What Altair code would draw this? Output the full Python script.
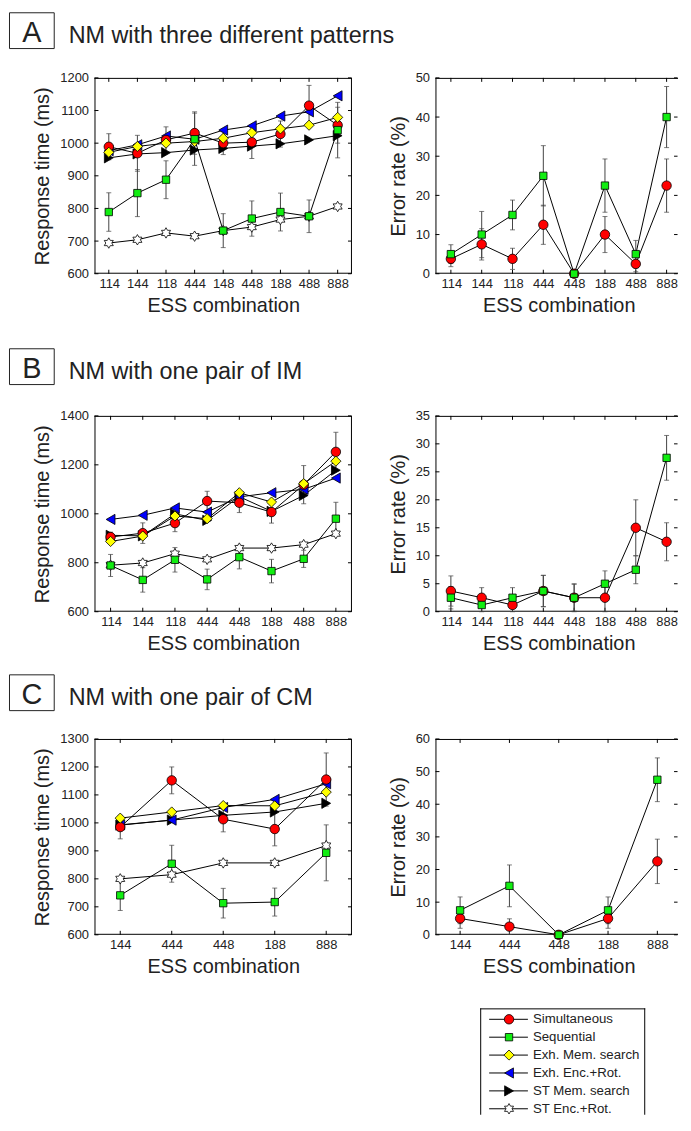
import math
import altair as alt
import pandas as pd

FONT = "Liberation Sans"
INK = "#222222"
EBAR = "#444444"

SERIES = ["Simultaneous", "Sequential", "Exh. Mem. search", "Exh. Enc.+Rot.",
          "ST Mem. search", "ST Enc.+Rot."]
DRAW_ORDER = ["ST Enc.+Rot.", "ST Mem. search", "Exh. Enc.+Rot.", "Simultaneous",
              "Exh. Mem. search", "Sequential"]

# ---------------- Panel A : NM with three different patterns ----------------
A_CATS_RT = ["114", "144", "118", "444", "148", "448", "188", "488", "888"]
A_RT_SIM = [989, 969, 1010, 1031, 1000, 1003, 1028, 1115, 1055]
A_RT_SIM_E = [40, 55, 40, 65, 35, 50, 40, 62, 55]
A_RT_SEQ = [789, 847, 888, 1012, 732, 769, 789, 776, 1040]
A_RT_SEQ_E = [59, 72, 58, 80, 52, 54, 58, 50, 85]
A_RT_EXHMEM = [972, 990, 1000, 1005, 1015, 1032, 1044, 1055, 1079]
A_RT_EXHENC = [977, 995, 1022, 1012, 1040, 1053, 1083, 1096, 1145]
A_RT_STMEM = [955, 967, 971, 979, 984, 991, 998, 1010, 1023]
A_RT_STENC = [694, 704, 725, 715, 732, 743, 766, 776, 806]

A_CATS_ER = ["114", "144", "118", "444", "448", "188", "488", "888"]
A_ER_SIM = [3.8, 7.5, 3.8, 12.5, 0, 10, 2.5, 22.5]
A_ER_SIM_E = [2.0, 4.0, 2.7, 5.0, 0, 4.6, 2.0, 6.8]
A_ER_SEQ = [5, 10, 15, 25, 0, 22.5, 5, 40]
A_ER_SEQ_E = [2.4, 5.9, 3.8, 7.7, 0, 6.8, 3.5, 7.8]

# ---------------- Panel B : NM with one pair of IM ----------------
B_CATS = ["114", "144", "118", "444", "448", "188", "488", "888"]
B_RT_SIM = [905, 921, 962, 1052, 1045, 1007, 1119, 1253]
B_RT_SIM_E = [20, 42, 35, 40, 40, 45, 78, 80]
B_RT_SEQ = [789, 730, 812, 732, 823, 766, 816, 980]
B_RT_SEQ_E = [45, 50, 50, 42, 48, 48, 35, 67]
B_RT_EXHMEM = [887, 909, 991, 980, 1086, 1048, 1123, 1215]
B_RT_EXHENC = [977, 994, 1024, 1007, 1069, 1086, 1100, 1146]
B_RT_STMEM = [912, 910, 1000, 973, 1070, 1010, 1075, 1178]
B_RT_STENC = [790, 799, 837, 814, 860, 860, 874, 919]

B_ER_SIM = [3.7, 2.5, 1.2, 3.7, 2.5, 2.5, 15, 12.5]
B_ER_SIM_E = [2.7, 1.8, 1.2, 2.8, 2.4, 2.5, 5.0, 3.4]
B_ER_SEQ = [2.5, 1.2, 2.5, 3.7, 2.5, 5, 7.5, 27.5]
B_ER_SEQ_E = [2.0, 1.2, 1.8, 2.8, 2.5, 2.3, 2.5, 4.0]

# ---------------- Panel C : NM with one pair of CM ----------------
C_CATS = ["144", "444", "448", "188", "888"]
C_RT_SIM = [985, 1152, 1013, 978, 1155]
C_RT_SIM_E = [42, 48, 45, 60, 95]
C_RT_SEQ = [741, 854, 713, 717, 893]
C_RT_SEQ_E = [54, 66, 53, 50, 100]
C_RT_EXHMEM = [1017, 1039, 1062, 1061, 1110]
C_RT_EXHENC = [993, 1010, 1055, 1084, 1140]
C_RT_STMEM = [992, 1010, 1027, 1039, 1070]
C_RT_STENC = [800, 815, 857, 857, 919]

C_ER_SIM = [5, 2.5, 0, 5, 22.5]
C_ER_SIM_E = [3.0, 2.4, 0, 3.0, 6.8]
C_ER_SEQ = [7.5, 15, 0, 7.5, 47.5]
C_ER_SEQ_E = [4.1, 6.4, 0, 4.1, 6.7]


def hexagram_path():
    pts = []
    for k in range(12):
        ang = math.radians(-90 + 30 * k)
        r = 1.0 if k % 2 == 0 else 1 / math.sqrt(3)
        pts.append((r * math.cos(ang), r * math.sin(ang)))
    return "M" + " L".join(f"{x:.3f},{y:.3f}" for x, y in pts) + " Z"


MARKERS = {
    "Simultaneous": ("circle", "#ff0000", 90),
    "Sequential": ("square", "#11ee11", 55),
    "Exh. Mem. search": ("diamond", "#ffff00", 105),
    "Exh. Enc.+Rot.": ("triangle-left", "#0000ff", 105),
    "ST Mem. search": ("triangle-right", "#000000", 105),
    "ST Enc.+Rot.": (hexagram_path(), "#ffffff", 110),
}

ONE = pd.DataFrame({"k": [0]})


def spacer(w, h):
    return alt.Chart(ONE).mark_point(opacity=0, size=1).encode(
        x=alt.value(0.5), y=alt.value(0.5)).properties(width=w, height=h)


def panel(cats, vals, errs, ymin, ymax, ystep, ytitle, W, H, lab_pad, title_pad,
          xrange=None, open_right=False):
    rows, erows = [], []
    for s in SERIES:
        if s not in vals:
            continue
        for i, c in enumerate(cats):
            v = vals[s][i]
            rows.append({"s": s, "c": c, "i": i, "v": v})
            if s in errs and errs[s][i] > 0:
                e = errs[s][i]
                erows.append({"s": s, "c": c, "lo": v - e, "hi": v + e})
    df = pd.DataFrame(rows)
    ticks = list(range(ymin, ymax + 1, ystep))
    # 3-digit labels are ~21.7px wide at 13px: right-align and shift by half width
    xaxis = alt.Axis(labelAngle=0, ticks=False, tickSize=0, domain=False, grid=False,
                     labelPadding=4, titlePadding=5, labelAlign="right", labelOffset=10.8,
                     labelOverlap=False)
    yaxis = alt.Axis(values=ticks, format="d", ticks=False, tickSize=0, domain=False,
                     grid=False, labelPadding=lab_pad, titlePadding=title_pad)
    if xrange is not None:
        xs = alt.Scale(type="point", padding=0.5, domain=cats, range=xrange)
    else:
        xs = alt.Scale(type="point", padding=0.5, domain=cats)
    ys = alt.Scale(domain=[ymin, ymax], nice=False, zero=False)
    X = alt.X("c:N", scale=xs, axis=xaxis, title="ESS combination")

    def Y(f):
        return alt.Y(f"{f}:Q", scale=ys, axis=yaxis, title=ytitle)

    fr = alt.Chart(ONE).mark_rule(color="black", strokeWidth=1)
    layers = [
        fr.encode(x=alt.value(0), x2=alt.value(W), y=alt.value(0.5)),
        fr.encode(x=alt.value(0), x2=alt.value(W), y=alt.value(H - 0.5)),
        fr.encode(x=alt.value(0.5), y=alt.value(0), y2=alt.value(H)),
    ]
    if not open_right:
        layers.append(fr.encode(x=alt.value(W - 0.5), y=alt.value(0), y2=alt.value(H)))
    tdf = pd.DataFrame({"t": ticks})
    cdf = pd.DataFrame({"c": cats})
    tk = alt.Chart(tdf).mark_rule(color="black", strokeWidth=1)
    layers += [
        tk.encode(y=Y("t"), x=alt.value(0), x2=alt.value(4)),
        tk.encode(y=Y("t"), x=alt.value(W - 4), x2=alt.value(W - 0.5)),
    ]
    ck = alt.Chart(cdf).mark_rule(color="black", strokeWidth=1)
    layers += [
        ck.encode(x=X, y=alt.value(0), y2=alt.value(4)),
        ck.encode(x=X, y=alt.value(H - 4), y2=alt.value(H)),
    ]
    layers.append(alt.Chart(df).mark_line(color="black", strokeWidth=1).encode(
        x=X, y=Y("v"), detail="s:N", order="i:Q"))
    if erows:
        de = pd.DataFrame(erows)
        layers += [
            alt.Chart(de).mark_rule(color=EBAR, strokeWidth=1).encode(x=X, y=Y("lo"), y2="hi:Q"),
            alt.Chart(de).mark_tick(color=EBAR, thickness=1, size=5).encode(x=X, y=Y("lo")),
            alt.Chart(de).mark_tick(color=EBAR, thickness=1, size=5).encode(x=X, y=Y("hi")),
        ]
    for s in DRAW_ORDER:
        if s not in vals:
            continue
        shp, fill, size = MARKERS[s]
        d = df[df.s == s]
        layers.append(alt.Chart(d).mark_point(
            shape=shp, size=size, filled=True, fill=fill, stroke="black",
            strokeWidth=0.8, opacity=1).encode(x=X, y=Y("v")))
    return alt.layer(*layers).properties(width=W, height=H)


C0W = 86


def header(letter, text, top, h):
    box = alt.Chart(ONE).mark_rect(fillOpacity=0, stroke=INK, strokeWidth=1).encode(
        x=alt.value(0.5), x2=alt.value(45.5), y=alt.value(top + 0.5), y2=alt.value(top + 36.5))
    let = alt.Chart(pd.DataFrame({"t": [letter]})).mark_text(
        fontSize=29, font=FONT, color=INK, align="center", baseline="alphabetic"
    ).encode(text="t:N", x=alt.value(23), y=alt.value(top + 30))
    ttl = alt.Chart(pd.DataFrame({"t": [text]})).mark_text(
        fontSize=23.5, font=FONT, color=INK, align="left", baseline="alphabetic"
    ).encode(text="t:N", x=alt.value(60), y=alt.value(top + 31))
    return alt.layer(box, let, ttl).properties(width=C0W, height=h)


LW, GAPW, RW, PH = 259, 84, 244, 197
RX = [0, 248]

rt = "Response time (ms)"
er = "Error rate (%)"

A_left = panel(A_CATS_RT,
               {"Simultaneous": A_RT_SIM, "Sequential": A_RT_SEQ, "Exh. Mem. search": A_RT_EXHMEM,
                "Exh. Enc.+Rot.": A_RT_EXHENC, "ST Mem. search": A_RT_STMEM, "ST Enc.+Rot.": A_RT_STENC},
               {"Simultaneous": A_RT_SIM_E, "Sequential": A_RT_SEQ_E},
               600, 1200, 100, rt, LW, PH, 6, 7)
A_right = panel(A_CATS_ER, {"Simultaneous": A_ER_SIM, "Sequential": A_ER_SEQ},
                {"Simultaneous": A_ER_SIM_E, "Sequential": A_ER_SEQ_E},
                0, 50, 10, er, RW, PH, 6, 7, xrange=RX, open_right=True)
B_left = panel(B_CATS,
               {"Simultaneous": B_RT_SIM, "Sequential": B_RT_SEQ, "Exh. Mem. search": B_RT_EXHMEM,
                "Exh. Enc.+Rot.": B_RT_EXHENC, "ST Mem. search": B_RT_STMEM, "ST Enc.+Rot.": B_RT_STENC},
               {"Simultaneous": B_RT_SIM_E, "Sequential": B_RT_SEQ_E},
               600, 1400, 200, rt, LW, PH, 6, 7)
B_right = panel(B_CATS, {"Simultaneous": B_ER_SIM, "Sequential": B_ER_SEQ},
                {"Simultaneous": B_ER_SIM_E, "Sequential": B_ER_SEQ_E},
                0, 35, 5, er, RW, PH, 6, 7, xrange=RX, open_right=True)
C_left = panel(C_CATS,
               {"Simultaneous": C_RT_SIM, "Sequential": C_RT_SEQ, "Exh. Mem. search": C_RT_EXHMEM,
                "Exh. Enc.+Rot.": C_RT_EXHENC, "ST Mem. search": C_RT_STMEM, "ST Enc.+Rot.": C_RT_STENC},
               {"Simultaneous": C_RT_SIM_E, "Sequential": C_RT_SEQ_E},
               600, 1300, 100, rt, LW, PH, 6, 7)
C_right = panel(C_CATS, {"Simultaneous": C_ER_SIM, "Sequential": C_ER_SEQ},
                {"Simultaneous": C_ER_SIM_E, "Sequential": C_ER_SEQ_E},
                0, 60, 10, er, RW, PH, 6, 7, xrange=RX, open_right=True)

# ---------------- Legend (placed in the right column) ----------------
LEG_TOP, LEG_X, LEG_CELL_H = 74, 45, 181
leg_df = pd.DataFrame({"s": SERIES})
Yl = alt.Y("s:N", scale=alt.Scale(type="point", domain=SERIES,
                                  range=[LEG_TOP + 11, LEG_TOP + 101], padding=0), axis=None)
lb = alt.Chart(ONE).mark_rule(color="black", strokeWidth=1)
leg_layers = [
    lb.encode(x=alt.value(LEG_X), x2=alt.value(LEG_X + 166), y=alt.value(LEG_TOP + 0.5)),
    lb.encode(x=alt.value(LEG_X + 0.5), y=alt.value(LEG_TOP), y2=alt.value(LEG_CELL_H)),
    lb.encode(x=alt.value(LEG_X + 165.5), y=alt.value(LEG_TOP), y2=alt.value(LEG_CELL_H)),
    alt.Chart(leg_df).mark_rule(color="black", strokeWidth=1).encode(
        y=Yl, x=alt.value(LEG_X + 9), x2=alt.value(LEG_X + 48)),
]
for s in SERIES:
    shp, fill, size = MARKERS[s]
    leg_layers.append(alt.Chart(leg_df[leg_df.s == s]).mark_point(
        shape=shp, size=size, filled=True, fill=fill, stroke="black", strokeWidth=0.8,
        opacity=1).encode(y=Yl, x=alt.value(LEG_X + 29)))
leg_layers.append(alt.Chart(leg_df).mark_text(
    align="left", baseline="middle", fontSize=13.3, font=FONT, color=INK, clip=True).encode(
    y=Yl, x=alt.value(LEG_X + 53), text="s:N"))
legend = alt.layer(*leg_layers).properties(width=RW, height=LEG_CELL_H)

cells = [
    header("A", "NM with three different patterns", 0, 66), spacer(1, 1), spacer(GAPW, 1), spacer(1, 1),
    spacer(1, 1), A_left, spacer(GAPW, 1), A_right,
    header("B", "NM with one pair of IM", 75, 143), spacer(1, 1), spacer(1, 1), spacer(1, 1),
    spacer(1, 1), B_left, spacer(1, 1), B_right,
    header("C", "NM with one pair of CM", 63, 128), spacer(1, 1), spacer(1, 1), spacer(1, 1),
    spacer(1, 1), C_left, spacer(1, 1), C_right,
    spacer(1, 1), spacer(1, 1), spacer(1, 1), legend,
]

chart = alt.concat(*cells, columns=4, spacing=0, bounds="flush", align="each").properties(
    padding=0
).configure_view(stroke="transparent").configure_axis(
    labelFont=FONT, titleFont=FONT, labelFontSize=13, titleFontSize=20,
    labelColor=INK, titleColor=INK, titleFontWeight="normal",
)

chart.save("out.html", embed_options={"renderer": "svg", "actions": False})
